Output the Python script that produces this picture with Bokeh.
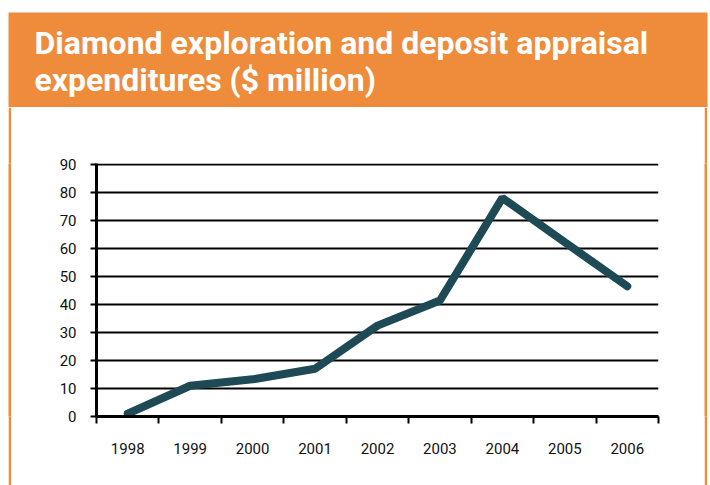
from bokeh.plotting import figure
from bokeh.models import (Range1d, FixedTicker, NumeralTickFormatter, Label, Spacer)
from bokeh.layouts import column, row
from bokeh.embed import file_html
from bokeh.resources import INLINE

# Data
years = [1998, 1999, 2000, 2001, 2002, 2003, 2004, 2005, 2006]
expenditure = [1, 11, 13.3, 17.1, 32.5, 41.5, 78.2, 62.3, 46.6]
y_ticks = [0, 10, 20, 30, 40, 50, 60, 70, 80, 90]
title_lines = ["Diamond exploration and deposit appraisal", "expenditures ($ million)"]

ORANGE = "#EE8C3B"
TEAL = "#1D4A55"
FONT = "Roboto"

W, H = 710, 485
HEADER_H = 107
BODY_H = H - HEADER_H


def block(width, height, left=0, right=0, top=0, bottom=0, fill=ORANGE, border="white"):
    f = figure(width=width, height=height, output_backend="svg", toolbar_location=None,
               x_range=Range1d(0, 1), y_range=Range1d(0, 1),
               x_axis_location=None, y_axis_location=None,
               min_border_left=left, min_border_right=right,
               min_border_top=top, min_border_bottom=bottom)
    f.grid.visible = False
    f.outline_line_color = None
    f.background_fill_color = fill
    f.border_fill_color = border
    return f


# Orange header band with the title
header = block(W, HEADER_H, left=8, right=3, top=12, bottom=0)
header.add_layout(Label(x=34, y=23, x_units="canvas", y_units="canvas",
                        text="\n".join(title_lines), text_color="white",
                        text_font=FONT, text_font_style="bold",
                        text_font_size="32px", text_baseline="top",
                        text_line_height=0.98))

# Side strips of the orange frame (whole strip figure is orange)
left_strip = block(3, BODY_H, border=ORANGE)
right_strip = block(3, BODY_H, border=ORANGE)

# Chart
CW = W - 8 - 3 - 3 - 3
FRAME_LEFT, FRAME_RIGHT = 96, 658
p = figure(width=CW, height=BODY_H, output_backend="svg", toolbar_location=None,
           x_range=Range1d(years[0] - 0.5, years[-1] + 0.5),
           y_range=Range1d(y_ticks[0], y_ticks[-1] + 0.5),
           min_border_left=FRAME_LEFT - 11, min_border_right=(11 + CW) - FRAME_RIGHT,
           min_border_top=163 - HEADER_H, min_border_bottom=H - 416)
p.outline_line_color = None
p.background_fill_color = "white"
p.border_fill_color = "white"

p.line(years, expenditure, line_color=TEAL, line_width=8,
       line_cap="round", line_join="bevel")

# Y axis
p.yaxis.ticker = FixedTicker(ticks=y_ticks)
p.yaxis.axis_line_width = 3
p.yaxis.axis_line_color = "black"
p.yaxis.major_tick_line_color = "black"
p.yaxis.major_tick_line_width = 2
p.yaxis.major_tick_out = 6
p.yaxis.major_tick_in = 0
p.yaxis.minor_tick_line_color = None
p.yaxis.major_label_standoff = 14
p.yaxis.major_label_text_font = FONT
p.yaxis.major_label_text_font_size = "15px"
p.yaxis.major_label_text_color = "#111111"

# X axis
p.xaxis.ticker = FixedTicker(ticks=years,
                             minor_ticks=[y - 0.5 for y in years] + [years[-1] + 0.5])
p.xaxis.formatter = NumeralTickFormatter(format="0")
p.xaxis.axis_line_width = 3
p.xaxis.axis_line_color = "black"
p.xaxis.major_tick_line_color = None
p.xaxis.major_tick_out = 0
p.xaxis.major_tick_in = 0
p.xaxis.minor_tick_line_color = "black"
p.xaxis.minor_tick_line_width = 2
p.xaxis.minor_tick_out = 7
p.xaxis.minor_tick_in = 0
p.xaxis.major_label_standoff = 19
p.xaxis.major_label_text_font = FONT
p.xaxis.major_label_text_font_size = "15px"
p.xaxis.major_label_text_color = "#111111"

p.xgrid.visible = False
p.ygrid.ticker = FixedTicker(ticks=y_ticks)
p.ygrid.grid_line_color = "black"
p.ygrid.grid_line_width = 2

body = row(Spacer(width=8, height=BODY_H), left_strip, p, right_strip,
           Spacer(width=3, height=BODY_H), spacing=0)
layout = column(header, body, spacing=0)

open("out.html", "w").write(file_html(layout, INLINE))
